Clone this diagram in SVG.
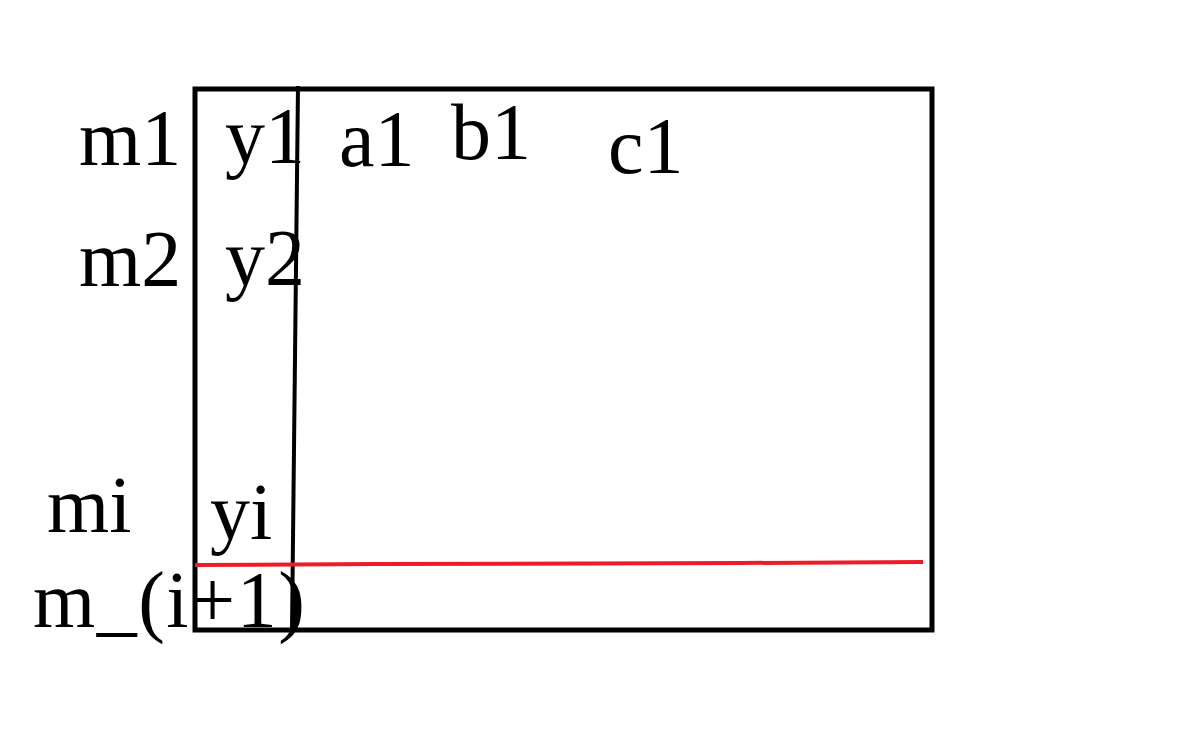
<svg xmlns="http://www.w3.org/2000/svg" width="1186" height="751" viewBox="0 0 1186 751">
<style>
text{font-family:"Liberation Serif","Times New Roman",serif;font-size:80px;fill:#000}
.k{stroke:#000;stroke-width:5;fill:none}
.t{stroke:#000;stroke-width:4;fill:none}
.r{stroke:#ed1c24;stroke-width:4;fill:none}
</style>
<rect width="1186" height="751" fill="#fff"/>
<g id="table">
<rect class="k" x="195" y="89" width="737" height="541"/>
</g>
<g id="connectors">
<path class="t" d="M298,86 L292,630"/>
<path class="r" d="M195,565 L376,564 L740,563 L923,562"/>
</g>
<g id="labels">
<text x="79" y="165">m1</text>
<text x="225" y="163">y1</text>
<text x="339" y="166">a1</text>
<text x="451" y="159">b1</text>
<text x="608" y="173">c1</text>
<text x="79" y="286">m2</text>
<text x="225" y="285">y2</text>
<text x="47" y="532">mi</text>
<text x="210" y="539">yi</text>
<text x="33" y="627" letter-spacing="1.5">m_(i+1)</text>
</g>
</svg>
